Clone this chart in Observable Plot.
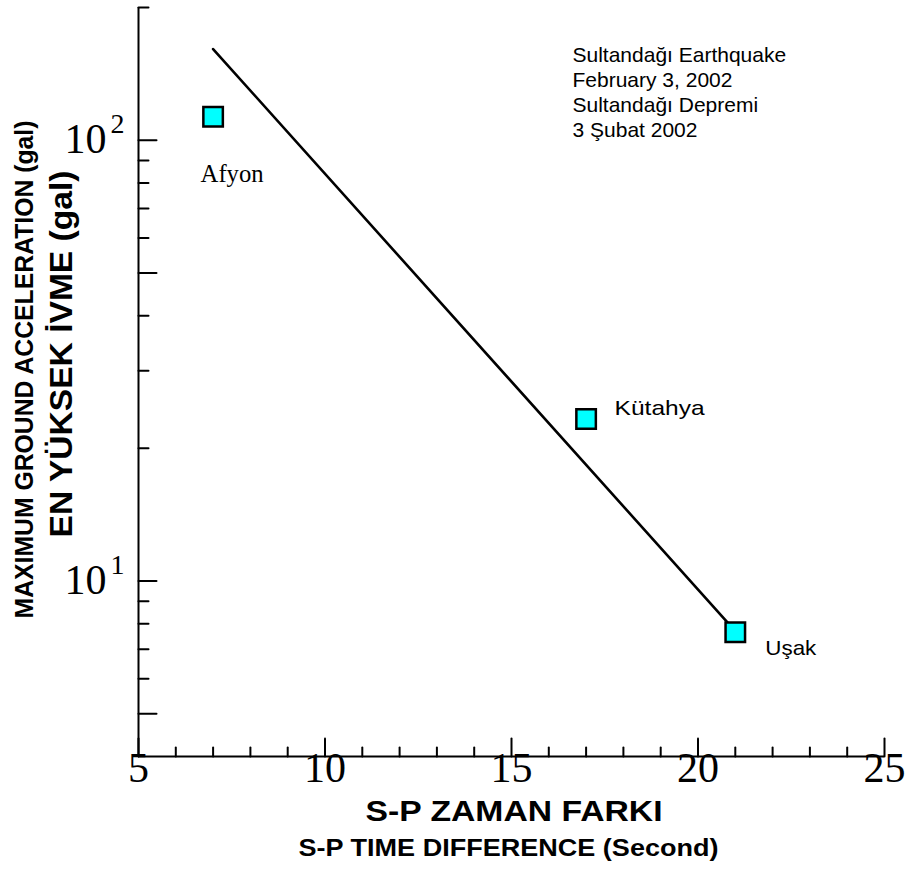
<!DOCTYPE html>
<html>
<head>
<meta charset="utf-8">
<script src="https://cdn.jsdelivr.net/npm/d3@7"></script>
<script src="https://cdn.jsdelivr.net/npm/@observablehq/plot@0.6"></script>
<style>
  body { margin: 0; background: #fff; }
  #chart svg { display: block; }
</style>
</head>
<body>
<div id="chart"></div>
<script>
// Recording stations of the 3 February 2002 Sultandağı earthquake
const stations = ["Afyon", "Kütahya", "Uşak"];
const spTime = [7, 17, 21];          // S-P time difference (s)
const pga = [113, 23.3, 7.65];       // peak ground acceleration (gal)

// Attenuation trend line (end points)
const fitTime = [7, 21];
const fitPga = [161, 7.7];

// Axis ticks
const xMajorTicks = [5, 10, 15, 20, 25];
const xMinorTicks = [6, 7, 8, 9, 11, 12, 13, 14, 16, 17, 18, 19, 21, 22, 23, 24];
const yMajorTicks = [100, 50, 10, 5];
const yMinorTicks = [200, 90, 80, 70, 60, 40, 30, 20, 9, 8, 7, 6];
const yLabelValues = [100, 10];
const yLabelExponents = ["2", "1"];

// Texts
const noteLines = ["Sultandağı Earthquake", "February 3, 2002", "Sultandağı Depremi", "3 Şubat 2002"];
const yTitleEn = "MAXIMUM GROUND ACCELERATION (gal)";
const yTitleTr = "EN YÜKSEK İVME (gal)";
const xTitleTr = "S-P ZAMAN FARKI";
const xTitleEn = "S-P TIME DIFFERENCE (Second)";

const rows = stations.map((name, i) => ({name, t: spTime[i], a: pga[i]}));
const fit = fitTime.map((t, i) => ({t, a: fitPga[i]}));

const SANS = "Liberation Sans, Arial, sans-serif";
const SERIF = "Liberation Serif, Times New Roman, serif";

// Short straight tick drawn by the vector mark
const tickShape = {draw(context, l) { context.moveTo(0, 0); context.lineTo(0, -l); }};

const chart = Plot.plot({
  width: 908,
  height: 878,
  marginLeft: 138,
  marginRight: 24,
  marginTop: 7,
  marginBottom: 122,
  style: {background: "#fff", color: "#000"},
  x: {domain: [5, 25], axis: null},
  y: {type: "log", domain: [4, 200], axis: null},
  marks: [
    // axis lines
    Plot.ruleX([5], {stroke: "#000", strokeWidth: 2}),
    Plot.ruleY([4], {stroke: "#000", strokeWidth: 2}),
    // inward ticks
    Plot.vector(xMajorTicks, {x: d => d, frameAnchor: "bottom", length: 18, anchor: "start", shape: tickShape, stroke: "#000", strokeWidth: 2}),
    Plot.vector(xMinorTicks, {x: d => d, frameAnchor: "bottom", length: 9, anchor: "start", shape: tickShape, stroke: "#000", strokeWidth: 2}),
    Plot.vector(yMajorTicks, {y: d => d, frameAnchor: "left", rotate: 90, length: 18, anchor: "start", shape: tickShape, stroke: "#000", strokeWidth: 2}),
    Plot.vector(yMinorTicks, {y: d => d, frameAnchor: "left", rotate: 90, length: 10, anchor: "start", shape: tickShape, stroke: "#000", strokeWidth: 2}),
    // tick labels
    Plot.text(xMajorTicks, {x: d => d, frameAnchor: "bottom", text: d => String(d), dy: 25.6, fontSize: 42, fontFamily: SERIF, fill: "#000"}),
    Plot.text(yLabelValues, {y: d => d, frameAnchor: "left", text: () => "10", textAnchor: "end", dx: -32, dy: -1, fontSize: 42, fontFamily: SERIF, fill: "#000"}),
    Plot.text(yLabelValues, {y: d => d, frameAnchor: "left", text: (d, i) => yLabelExponents[i], textAnchor: "start", dx: -28, dy: -16, fontSize: 28, fontFamily: SERIF, fill: "#000"}),
    // axis titles (rotated, read bottom to top)
    Plot.text([yTitleEn], {frameAnchor: "left", rotate: -90, textAnchor: "start", dx: -114, dy: 236.5, fontSize: 25, fontWeight: "bold", fontFamily: SANS, fill: "#000"}),
    Plot.text([yTitleTr], {frameAnchor: "left", rotate: -90, textAnchor: "start", dx: -76, dy: 155.5, fontSize: 31, fontWeight: "bold", fontFamily: SANS, fill: "#000"}),
    Plot.text([xTitleTr], {frameAnchor: "bottom", dx: 2.5, dy: 64.4, fontSize: 30, fontWeight: "bold", fontFamily: SANS, fill: "#000"}),
    Plot.text([xTitleEn], {frameAnchor: "bottom", dx: -3, dy: 99.6, fontSize: 23, fontWeight: "bold", fontFamily: SANS, fill: "#000"}),
    // event note
    Plot.text([noteLines.join("\n")], {frameAnchor: "top-left", dx: 434, dy: 37, lineAnchor: "top", textAnchor: "start", fontSize: 21, lineHeight: 25 / 21, fontFamily: SANS, fill: "#000"}),
    // trend line and stations
    Plot.line(fit, {x: "t", y: "a", stroke: "#000", strokeWidth: 2.6}),
    Plot.dot(rows, {x: "t", y: "a", symbol: "square", r: 11, fill: "#00ffff", stroke: "#000", strokeWidth: 2.5}),
    Plot.text(rows, {filter: d => d.name === "Afyon", x: "t", y: "a", text: "name", textAnchor: "middle", dx: 19, dy: 57, fontSize: 25, fontFamily: SERIF, fill: "#000"}),
    Plot.text(rows, {filter: d => d.name === "Kütahya", x: "t", y: "a", text: "name", textAnchor: "start", dx: 28.5, dy: -11, fontSize: 21, fontFamily: SANS, fill: "#000"}),
    Plot.text(rows, {filter: d => d.name === "Uşak", x: "t", y: "a", text: "name", textAnchor: "start", dx: 30, dy: 16, fontSize: 21, fontFamily: SANS, fill: "#000"})
  ]
});

document.getElementById("chart").appendChild(chart);

// Stretch a few labels to their set widths
const textWidths = new Map([
  [yTitleEn, 498],
  [yTitleTr, 367],
  [xTitleTr, 297],
  [xTitleEn, 420],
  ["Kütahya", 90],
  ["Uşak", 51],
  ["Afyon", 63]
]);
d3.select(chart).selectAll("text").each(function () {
  const w = textWidths.get(this.textContent);
  if (w) {
    this.setAttribute("textLength", w);
    this.setAttribute("lengthAdjust", "spacingAndGlyphs");
  }
});
</script>
</body>
</html>
